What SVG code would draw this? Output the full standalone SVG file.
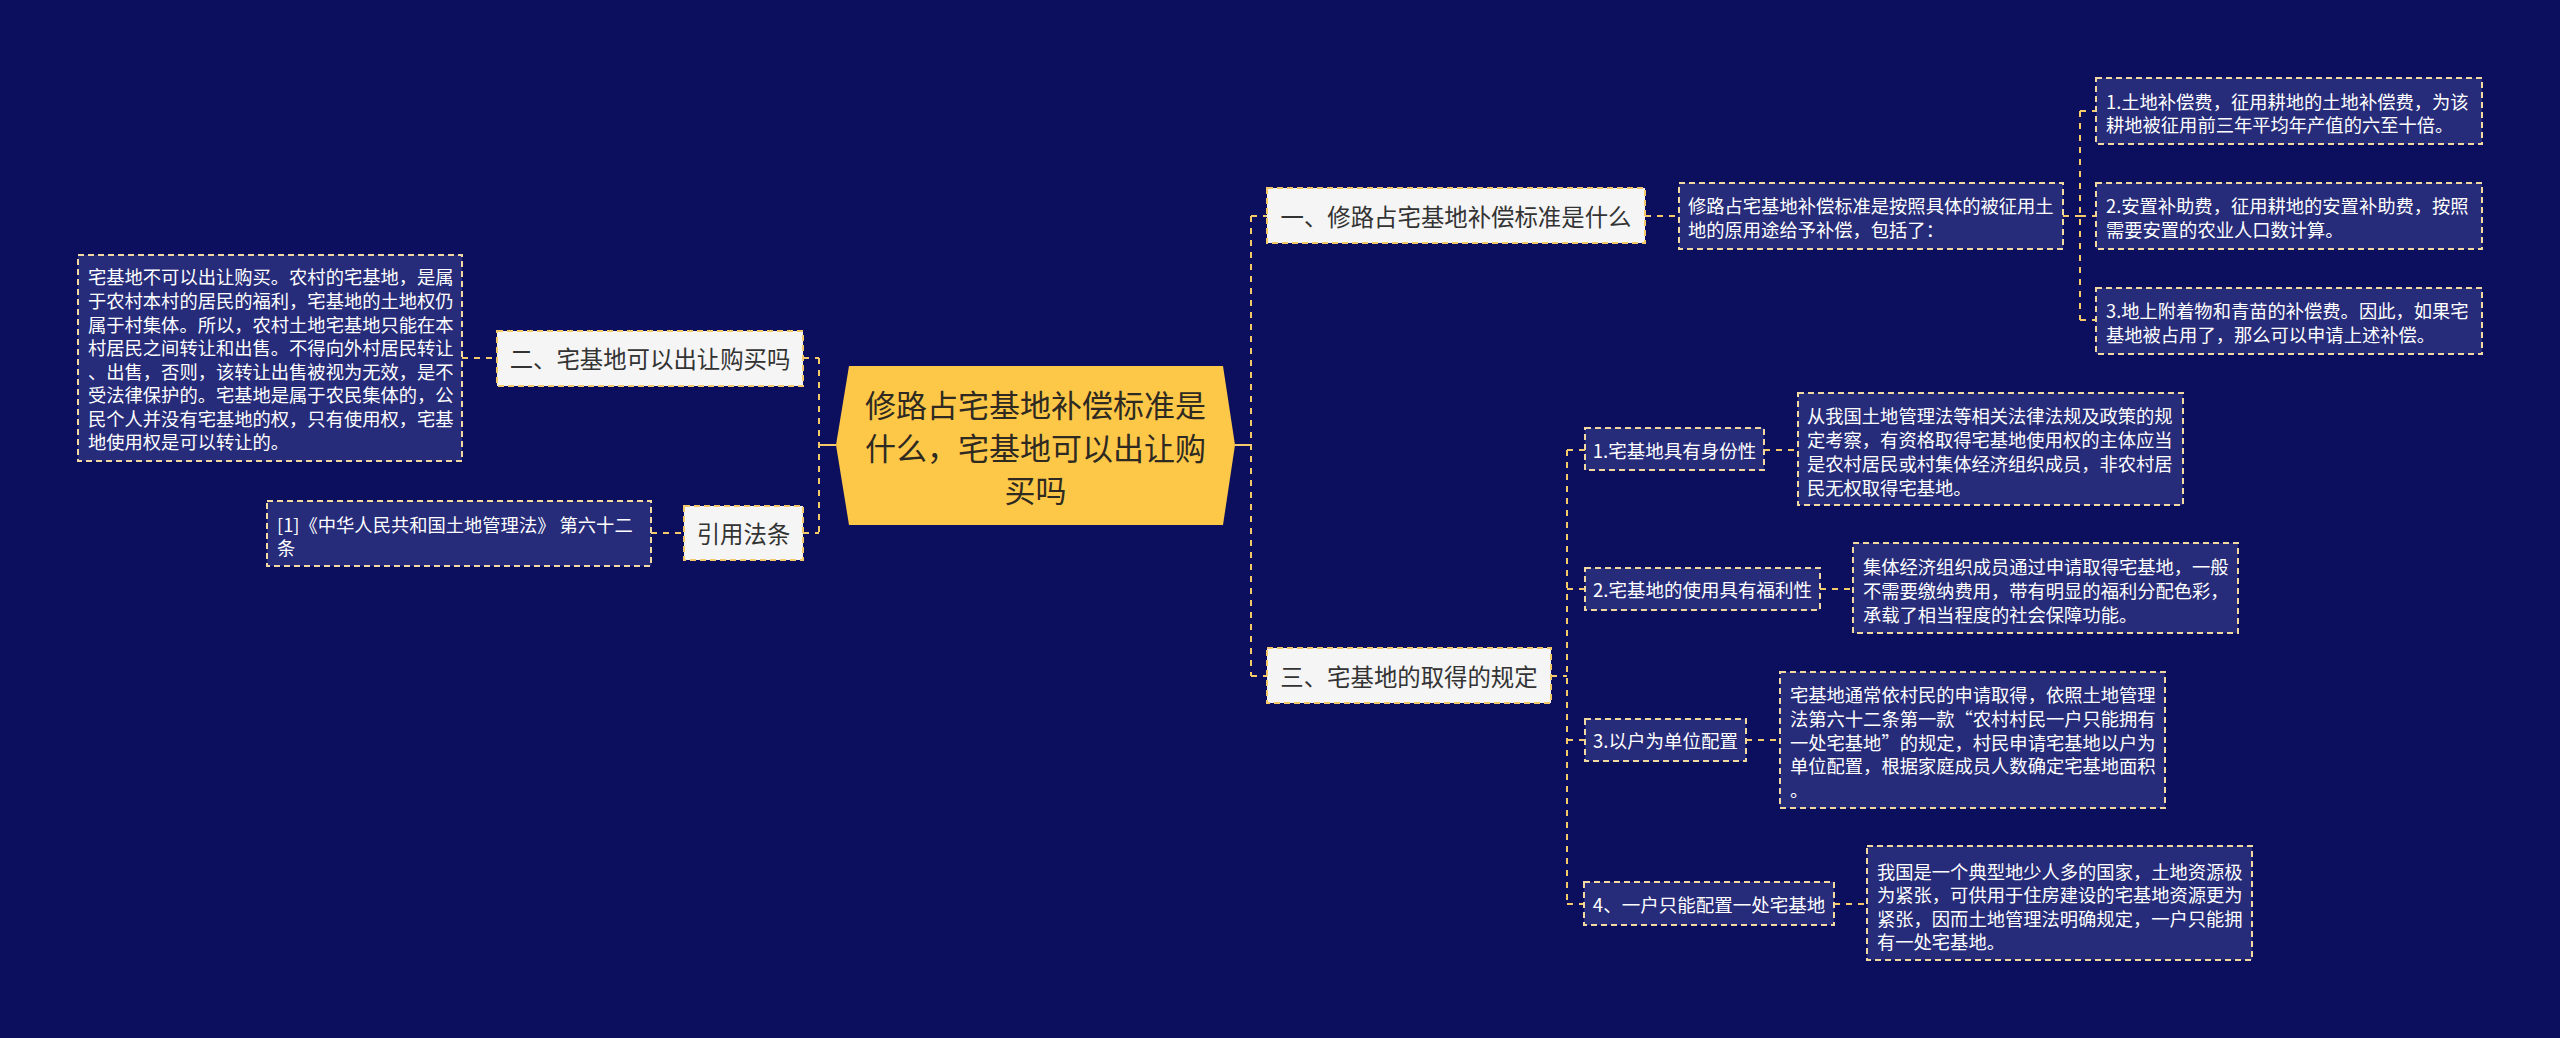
<svg xmlns="http://www.w3.org/2000/svg" width="2560" height="1038" viewBox="0 0 2560 1038">
<style>
text{font-family:"Noto Sans CJK SC","Liberation Sans",sans-serif;dominant-baseline:central}
.bg{fill:#0C0F5E}
.desc{fill:#262B7A;stroke:#F2D9A2;stroke-width:2;stroke-dasharray:6 4}
.lab{fill:#F5F5F5;stroke:#F3C96A;stroke-width:2;stroke-dasharray:6 4}
.dt{fill:#FFFFFF;font-size:18.3px}
.lt{fill:#333333;font-size:23.4px;text-anchor:middle}
.st{fill:#FFFFFF;font-size:18.5px;text-anchor:middle}
.ct{fill:#2E2A22;font-size:31px;text-anchor:middle}
.cn{fill:none;stroke:#F3C96A;stroke-width:2;stroke-dasharray:6 6}
.cs{fill:none;stroke:#F3C96A;stroke-width:2}
</style>
<rect class="bg" x="0" y="0" width="2560" height="1038"/>
<g id="connectors">
<path class="cs" d="M836 445H819"/>
<path class="cn" d="M819 358V533M803 358H819M803 533H819"/>
<path class="cn" d="M462 358H497M651 533H684"/>
<path class="cs" d="M1235 445H1251"/>
<path class="cn" d="M1251 216V676M1251 216H1267M1251 676H1267"/>
<path class="cn" d="M1645 216H1679"/>
<path class="cn" d="M2063 216H2080M2080 111V320M2080 111H2096M2080 216H2096M2080 320H2096"/>
<path class="cn" d="M1551 676H1567M1567 450V904M1567 450H1585M1567 589H1585M1567 740H1585M1567 904H1584"/>
<path class="cn" d="M1764 450H1798M1820 589H1853M1746 740H1780M1834 904H1867"/>
</g>
<g id="center">
<polygon points="836,445 849,366 1223,366 1235,445 1223,525 849,525" fill="#FDC748"/>
<text class="ct" x="1035.5" y="403">修路占宅基地补偿标准是</text>
<text class="ct" x="1035.5" y="446">什么，宅基地可以出让购</text>
<text class="ct" x="1035.5" y="488">买吗</text>
</g>
<g id="n2">
<rect class="lab" x="497" y="331" width="306" height="55"/>
<text class="lt" x="650" y="358">二、宅基地可以出让购买吗</text>
</g>
<g id="n2d">
<rect class="desc" x="78" y="255" width="384" height="206"/>
<text class="dt" x="88" y="276">宅基地不可以出让购买。农村的宅基地，是属</text>
<text class="dt" x="88" y="300">于农村本村的居民的福利，宅基地的土地权仍</text>
<text class="dt" x="88" y="323.5">属于村集体。所以，农村土地宅基地只能在本</text>
<text class="dt" x="88" y="347">村居民之间转让和出售。不得向外村居民转让</text>
<text class="dt" x="88" y="370.5">、出售，否则，该转让出售被视为无效，是不</text>
<text class="dt" x="88" y="394">受法律保护的。宅基地是属于农民集体的，公</text>
<text class="dt" x="88" y="417.5">民个人并没有宅基地的权，只有使用权，宅基</text>
<text class="dt" x="88" y="441">地使用权是可以转让的。</text>
</g>
<g id="ref">
<rect class="lab" x="684" y="506" width="119" height="54"/>
<text class="lt" x="743.5" y="533">引用法条</text>
</g>
<g id="refd">
<rect class="desc" x="267" y="501" width="384" height="65"/>
<text class="dt" x="277" y="524">[1]《中华人民共和国土地管理法》 第六十二</text>
<text class="dt" x="277" y="547">条</text>
</g>
<g id="n1">
<rect class="lab" x="1267" y="188" width="378" height="55"/>
<text class="lt" x="1456" y="216">一、修路占宅基地补偿标准是什么</text>
</g>
<g id="n1d">
<rect class="desc" x="1679" y="183" width="384" height="66"/>
<text class="dt" x="1688" y="205">修路占宅基地补偿标准是按照具体的被征用土</text>
<text class="dt" x="1688" y="228.5">地的原用途给予补偿，包括了：</text>
</g>
<g id="n1a">
<rect class="desc" x="2096" y="78" width="386" height="66"/>
<text class="dt" x="2106" y="100.5">1.土地补偿费，征用耕地的土地补偿费，为该</text>
<text class="dt" x="2106" y="123.5">耕地被征用前三年平均年产值的六至十倍。</text>
</g>
<g id="n1b">
<rect class="desc" x="2096" y="183" width="386" height="66"/>
<text class="dt" x="2106" y="205">2.安置补助费，征用耕地的安置补助费，按照</text>
<text class="dt" x="2106" y="228.5">需要安置的农业人口数计算。</text>
</g>
<g id="n1c">
<rect class="desc" x="2096" y="288" width="386" height="66"/>
<text class="dt" x="2106" y="310">3.地上附着物和青苗的补偿费。因此，如果宅</text>
<text class="dt" x="2106" y="333.5">基地被占用了，那么可以申请上述补偿。</text>
</g>
<g id="n3">
<rect class="lab" x="1267" y="648" width="284" height="55"/>
<text class="lt" x="1409" y="676">三、宅基地的取得的规定</text>
</g>
<g id="s1">
<rect class="desc" x="1585" y="428" width="179" height="42"/>
<text class="st" x="1674.5" y="450">1.宅基地具有身份性</text>
</g>
<g id="s1d">
<rect class="desc" x="1798" y="393" width="385" height="112"/>
<text class="dt" x="1807" y="415">从我国土地管理法等相关法律法规及政策的规</text>
<text class="dt" x="1807" y="439">定考察，有资格取得宅基地使用权的主体应当</text>
<text class="dt" x="1807" y="463">是农村居民或村集体经济组织成员，非农村居</text>
<text class="dt" x="1807" y="487">民无权取得宅基地。</text>
</g>
<g id="s2">
<rect class="desc" x="1585" y="568" width="235" height="42"/>
<text class="st" x="1702.5" y="589">2.宅基地的使用具有福利性</text>
</g>
<g id="s2d">
<rect class="desc" x="1853" y="543" width="385" height="90"/>
<text class="dt" x="1863" y="566">集体经济组织成员通过申请取得宅基地，一般</text>
<text class="dt" x="1863" y="590">不需要缴纳费用，带有明显的福利分配色彩，</text>
<text class="dt" x="1863" y="613.5">承载了相当程度的社会保障功能。</text>
</g>
<g id="s3">
<rect class="desc" x="1585" y="719" width="161" height="42"/>
<text class="st" x="1665.5" y="740">3.以户为单位配置</text>
</g>
<g id="s3d">
<rect class="desc" x="1780" y="672" width="385" height="136"/>
<text class="dt" x="1790" y="694">宅基地通常依村民的申请取得，依照土地管理</text>
<text class="dt" x="1790" y="718">法第六十二条第一款“农村村民一户只能拥有</text>
<text class="dt" x="1790" y="741.5">一处宅基地”的规定，村民申请宅基地以户为</text>
<text class="dt" x="1790" y="765">单位配置，根据家庭成员人数确定宅基地面积</text>
<text class="dt" x="1790" y="789">。</text>
</g>
<g id="s4">
<rect class="desc" x="1584" y="882" width="250" height="43"/>
<text class="st" x="1709" y="904">4、一户只能配置一处宅基地</text>
</g>
<g id="s4d">
<rect class="desc" x="1867" y="846" width="385" height="114"/>
<text class="dt" x="1877" y="870.5">我国是一个典型地少人多的国家，土地资源极</text>
<text class="dt" x="1877" y="894">为紧张，可供用于住房建设的宅基地资源更为</text>
<text class="dt" x="1877" y="917.5">紧张，因而土地管理法明确规定，一户只能拥</text>
<text class="dt" x="1877" y="940.5">有一处宅基地。</text>
</g>
</svg>
